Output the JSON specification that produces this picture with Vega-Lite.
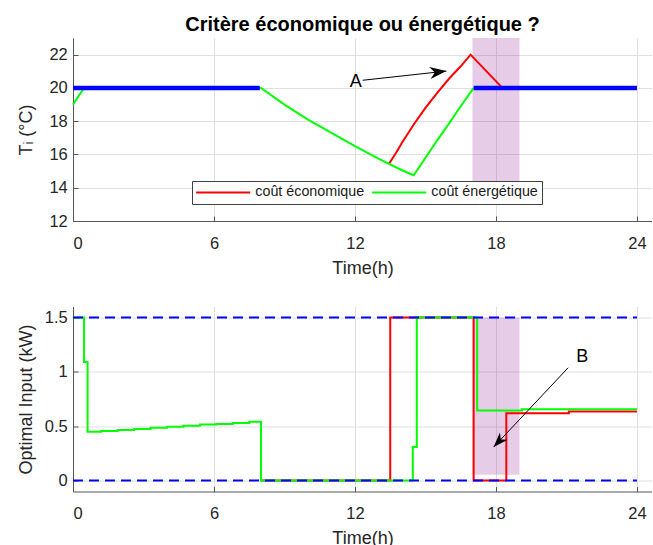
{
  "$schema": "https://vega.github.io/schema/vega-lite/v6.json",
  "background": "white",
  "padding": {"left": 16, "top": 14, "right": 0, "bottom": 0},
  "spacing": 29.5,
  "datasets": {
    "temp": [
      {"t": 0, "v": 19.0, "s": "coût énergétique"},
      {"t": 0.47, "v": 20.0, "s": "coût énergétique"},
      {"t": 8, "v": 20.0, "s": "coût énergétique"},
      {"t": 9, "v": 19.0, "s": "coût énergétique"},
      {"t": 10, "v": 18.1, "s": "coût énergétique"},
      {"t": 11, "v": 17.3, "s": "coût énergétique"},
      {"t": 12, "v": 16.5, "s": "coût énergétique"},
      {"t": 13, "v": 15.75, "s": "coût énergétique"},
      {"t": 14, "v": 15.05, "s": "coût énergétique"},
      {"t": 14.5, "v": 14.75, "s": "coût énergétique"},
      {"t": 15, "v": 15.8, "s": "coût énergétique"},
      {"t": 15.5, "v": 16.85, "s": "coût énergétique"},
      {"t": 16, "v": 17.85, "s": "coût énergétique"},
      {"t": 16.5, "v": 18.9, "s": "coût énergétique"},
      {"t": 17.05, "v": 20.0, "s": "coût énergétique"},
      {"t": 13.44, "v": 15.42, "s": "coût économique"},
      {"t": 13.75, "v": 16.1, "s": "coût économique"},
      {"t": 14, "v": 16.7, "s": "coût économique"},
      {"t": 14.5, "v": 17.8, "s": "coût économique"},
      {"t": 15, "v": 18.8, "s": "coût économique"},
      {"t": 15.5, "v": 19.7, "s": "coût économique"},
      {"t": 16, "v": 20.55, "s": "coût économique"},
      {"t": 16.5, "v": 21.3, "s": "coût économique"},
      {"t": 16.92, "v": 22.0, "s": "coût économique"},
      {"t": 18.27, "v": 20.0, "s": "coût économique"}
    ],
    "shadeTop": [{"t": 17, "t2": 19, "v": 14, "v2": 23}],
    "setTop": [{"t": 0, "t2": 7.95, "v": 20}, {"t": 17.05, "t2": 24, "v": 20}],
    "labelA": [{"t": 12.03, "v": 20.36, "label": "A"}],
    "arrowA": [{"t": 12.33, "v": 20.46, "t2": 15.89, "v2": 21.01}],
    "tipA": [{"t": 15.89, "v": 21.01}],
    "power": [
      {"t": 0, "v": 1.5, "s": "coût énergétique"},
      {"t": 0.47, "v": 1.09, "s": "coût énergétique"},
      {"t": 0.62, "v": 0.45, "s": "coût énergétique"},
      {"t": 1.2, "v": 0.455, "s": "coût énergétique"},
      {"t": 1.9, "v": 0.465, "s": "coût énergétique"},
      {"t": 2.6, "v": 0.475, "s": "coût énergétique"},
      {"t": 3.3, "v": 0.485, "s": "coût énergétique"},
      {"t": 4.0, "v": 0.495, "s": "coût énergétique"},
      {"t": 4.7, "v": 0.505, "s": "coût énergétique"},
      {"t": 5.4, "v": 0.515, "s": "coût énergétique"},
      {"t": 6.1, "v": 0.52, "s": "coût énergétique"},
      {"t": 6.8, "v": 0.53, "s": "coût énergétique"},
      {"t": 7.5, "v": 0.54, "s": "coût énergétique"},
      {"t": 8.0, "v": 0, "s": "coût énergétique"},
      {"t": 14.46, "v": 0.31, "s": "coût énergétique"},
      {"t": 14.63, "v": 1.5, "s": "coût énergétique"},
      {"t": 17.2, "v": 0.645, "s": "coût énergétique"},
      {"t": 19.1, "v": 0.655, "s": "coût énergétique"},
      {"t": 24, "v": 0.655, "s": "coût énergétique"},
      {"t": 8, "v": 0, "s": "coût économique"},
      {"t": 13.5, "v": 1.5, "s": "coût économique"},
      {"t": 17.05, "v": 0, "s": "coût économique"},
      {"t": 18.44, "v": 0.62, "s": "coût économique"},
      {"t": 21.1, "v": 0.635, "s": "coût économique"},
      {"t": 24, "v": 0.635, "s": "coût économique"}
    ],
    "shadeBot": [{"t": 17, "t2": 19, "v": 0.055, "v2": 1.5}],
    "limits": [{"t": 0, "t2": 24, "v": 0}, {"t": 0, "t2": 24, "v": 1.5}],
    "labelB": [{"t": 21.67, "v": 1.134, "label": "B"}],
    "arrowB": [{"t": 21.07, "v": 1.037, "t2": 17.9, "v2": 0.308}],
    "tipB": [{"t": 17.9, "v": 0.308}]
  },
  "resolve": {
    "scale": {"x": "independent", "y": "independent", "color": "independent"},
    "legend": {"color": "independent"}
  },
  "vconcat": [
    {
      "width": 579,
      "height": 183,
      "title": {
        "text": "Critère économique ou énergétique ?",
        "fontSize": 20,
        "fontWeight": "bold",
        "color": "#000000",
        "frame": "group",
        "anchor": "middle",
        "baseline": "alphabetic",
        "offset": -12.5
      },
      "encoding": {
        "x": {
          "field": "t", "type": "quantitative",
          "scale": {"domain": [0, 24.64], "nice": false, "zero": false},
          "axis": {"values": [0, 6, 12, 18, 24], "title": "Time(h)", "grid": true}
        },
        "y": {
          "field": "v", "type": "quantitative",
          "scale": {"domain": [12, 23], "nice": false, "zero": false},
          "axis": {"values": [12, 14, 16, 18, 20, 22], "title": "Tᵢ (°C)", "grid": true,
                   "titleX": -47, "titleY": 91.5, "titleBaseline": "middle"}
        }
      },
      "layer": [
        {
          "data": {"name": "shadeTop"},
          "mark": {"type": "rect", "color": "#800080", "opacity": 0.2},
          "encoding": {"x2": {"field": "t2"}, "y2": {"field": "v2"}}
        },
        {
          "data": {"name": "temp"},
          "transform": [{"filter": "datum.s === 'coût économique'"}],
          "mark": {"type": "line", "strokeWidth": 2},
          "encoding": {
            "color": {"field": "s", "type": "nominal",
                      "scale": {"domain": ["coût économique", "coût énergétique"], "range": ["#ff0000", "#00ff00"]}}
          }
        },
        {
          "data": {"name": "temp"},
          "transform": [{"filter": "datum.s === 'coût énergétique'"}],
          "mark": {"type": "line", "strokeWidth": 2},
          "encoding": {
            "color": {"field": "s", "type": "nominal",
                      "scale": {"domain": ["coût économique", "coût énergétique"], "range": ["#ff0000", "#00ff00"]}}
          }
        },
        {
          "data": {"name": "setTop"},
          "mark": {"type": "rule", "color": "#0000ff", "strokeWidth": 4.5},
          "encoding": {"x2": {"field": "t2"}}
        },
        {
          "data": {"name": "labelA"},
          "mark": {"type": "text", "fontSize": 18, "color": "#000000", "align": "center", "baseline": "middle"},
          "encoding": {"text": {"field": "label"}}
        },
        {
          "data": {"name": "arrowA"},
          "mark": {"type": "rule", "color": "#000000", "strokeWidth": 1},
          "encoding": {"x2": {"field": "t2"}, "y2": {"field": "v2"}}
        },
        {
          "data": {"name": "tipA"},
          "mark": {"type": "point", "shape": "M0,0L-1,-0.36L-0.7,0L-1,0.36Z", "filled": true, "color": "#000000",
                   "opacity": 1, "size": 1100, "angle": -6.4, "strokeWidth": 0}
        }
      ]
    },
    {
      "width": 579,
      "height": 185,
      "encoding": {
        "x": {
          "field": "t", "type": "quantitative",
          "scale": {"domain": [0, 24.64], "nice": false, "zero": false},
          "axis": {"values": [0, 6, 12, 18, 24], "title": "Time(h)", "grid": true}
        },
        "y": {
          "field": "v", "type": "quantitative",
          "scale": {"domain": [-0.1, 1.6], "nice": false, "zero": false},
          "axis": {"values": [0, 0.5, 1, 1.5], "format": "~g", "title": "Optimal Input (kW)", "grid": true,
                   "titleX": -47, "titleY": 92.5, "titleBaseline": "middle"}
        }
      },
      "layer": [
        {
          "data": {"name": "shadeBot"},
          "mark": {"type": "rect", "color": "#800080", "opacity": 0.2},
          "encoding": {"x2": {"field": "t2"}, "y2": {"field": "v2"}}
        },
        {
          "data": {"name": "power"},
          "transform": [{"filter": "datum.s === 'coût économique'"}],
          "mark": {"type": "line", "strokeWidth": 2, "interpolate": "step-after"},
          "encoding": {
            "color": {"field": "s", "type": "nominal", "legend": null,
                      "scale": {"domain": ["coût économique", "coût énergétique"], "range": ["#ff0000", "#00ff00"]}}
          }
        },
        {
          "data": {"name": "power"},
          "transform": [{"filter": "datum.s === 'coût énergétique'"}],
          "mark": {"type": "line", "strokeWidth": 2, "interpolate": "step-after"},
          "encoding": {
            "color": {"field": "s", "type": "nominal", "legend": null,
                      "scale": {"domain": ["coût économique", "coût énergétique"], "range": ["#ff0000", "#00ff00"]}}
          }
        },
        {
          "data": {"name": "limits"},
          "mark": {"type": "rule", "color": "#0000ff", "strokeWidth": 2, "strokeDash": [10, 6]},
          "encoding": {"x2": {"field": "t2"}}
        },
        {
          "data": {"name": "labelB"},
          "mark": {"type": "text", "fontSize": 18, "color": "#000000", "align": "center", "baseline": "middle"},
          "encoding": {"text": {"field": "label"}}
        },
        {
          "data": {"name": "arrowB"},
          "mark": {"type": "rule", "color": "#000000", "strokeWidth": 1},
          "encoding": {"x2": {"field": "t2"}, "y2": {"field": "v2"}}
        },
        {
          "data": {"name": "tipB"},
          "mark": {"type": "point", "shape": "M0,0L-1,-0.36L-0.7,0L-1,0.36Z", "filled": true, "color": "#000000",
                   "opacity": 1, "size": 900, "angle": 133.1, "strokeWidth": 0}
        }
      ]
    }
  ],
  "config": {
    "font": "Liberation Sans",
    "view": {"stroke": null},
    "axis": {
      "gridColor": "#e0e0e0", "gridWidth": 1,
      "domainColor": "#555555", "domainWidth": 1,
      "tickColor": "#555555", "tickSize": -5, "tickWidth": 1,
      "labelFontSize": 16.5, "labelColor": "#262626", "labelFont": "Liberation Sans",
      "titleFontSize": 18, "titleColor": "#262626", "titleFontWeight": "normal", "titleFont": "Liberation Sans"
    },
    "axisX": {"labelPadding": 19.2, "titlePadding": 7.3},
    "axisY": {"labelPadding": 10.7},
    "legend": {
      "orient": "none", "legendX": 119, "legendY": 143, "direction": "horizontal",
      "title": null,
      "symbolType": "M-1.1667,0H7.833", "symbolSize": 144, "symbolStrokeWidth": 2,
      "labelFontSize": 14.3, "labelFont": "Liberation Sans", "labelColor": "#1a1a1a", "labelOffset": 45,
      "columnPadding": 3, "padding": 4,
      "strokeColor": "#404040", "fillColor": "white"
    },
    "title": {"font": "Liberation Sans"}
  }
}
